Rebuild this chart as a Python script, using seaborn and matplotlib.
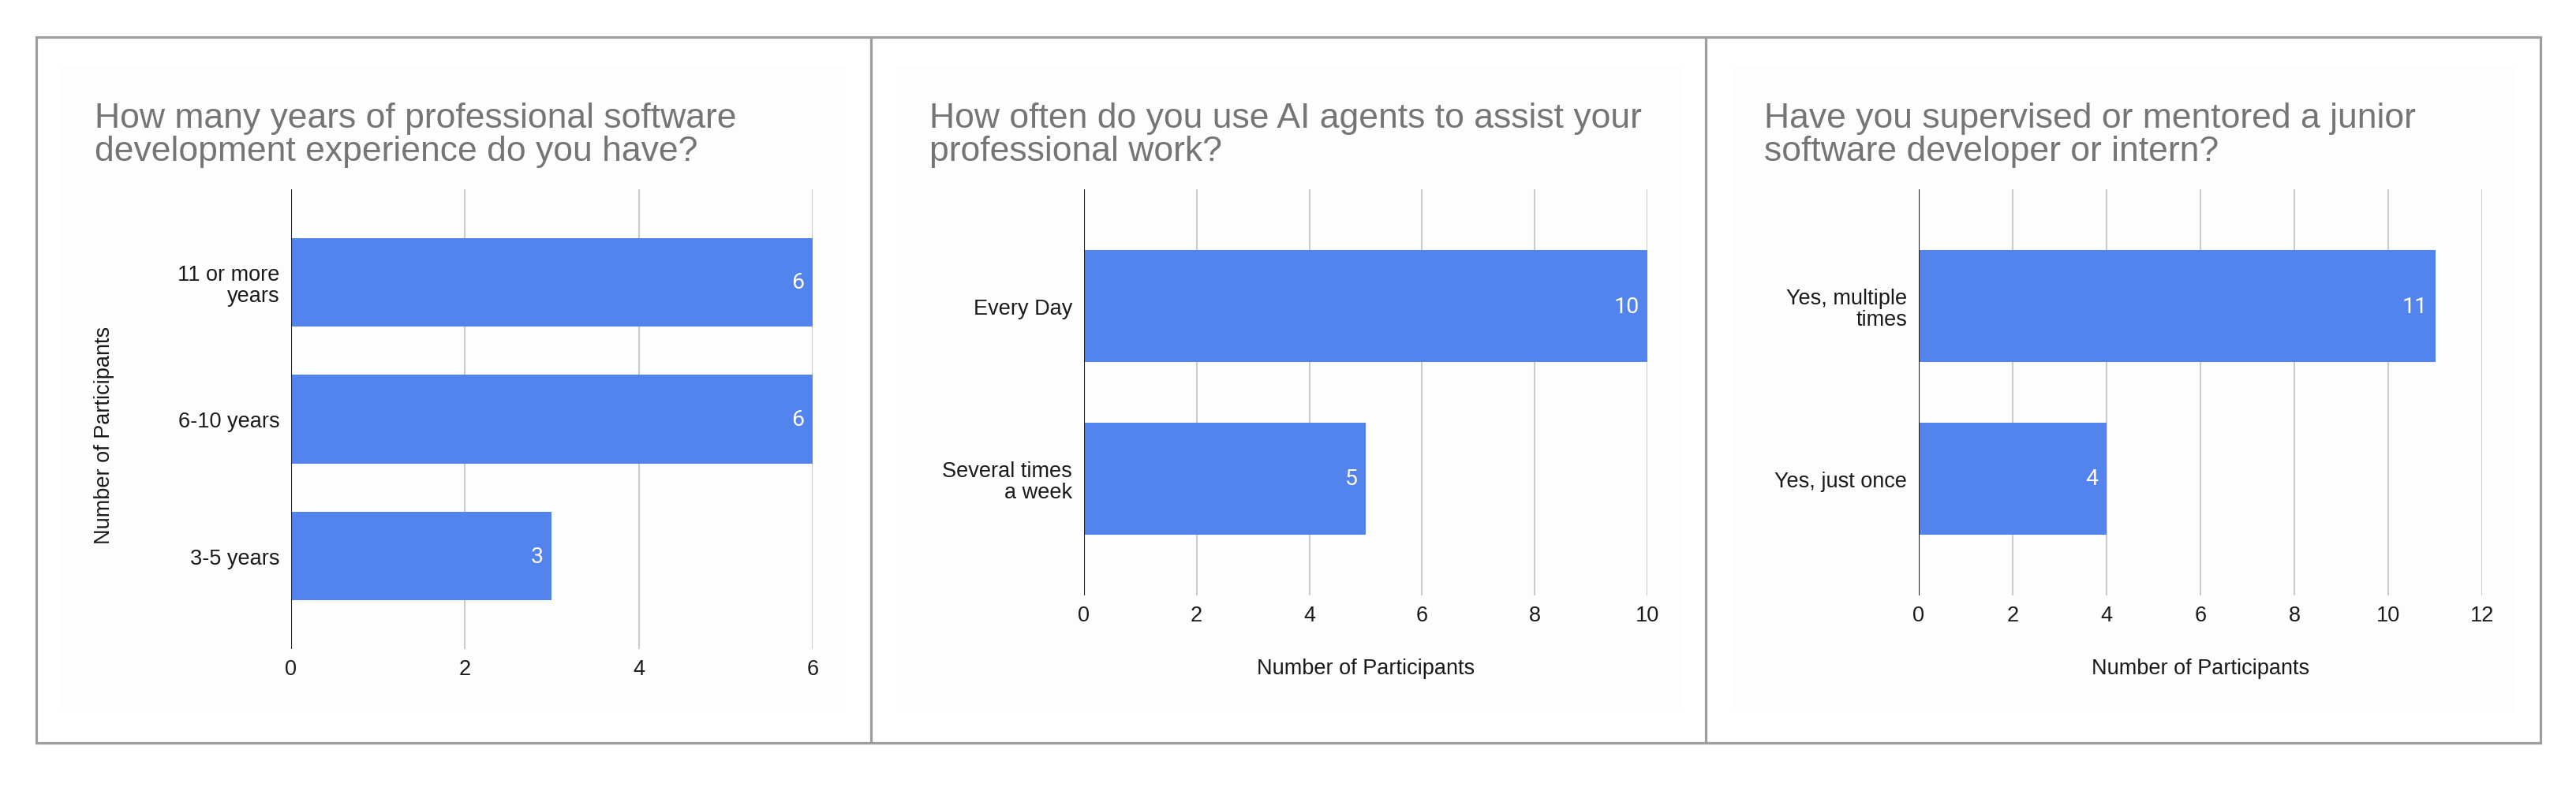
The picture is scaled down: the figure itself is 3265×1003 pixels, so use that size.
import matplotlib.pyplot as plt
import seaborn as sns
from matplotlib.patches import Rectangle
from matplotlib.lines import Line2D

# Survey answers (number of participants)
q1_title = ["How many years of professional software",
            "development experience do you have?"]
q1_cats = ["11 or more\nyears", "6-10 years", "3-5 years"]
q1_vals = [6, 6, 3]

q2_title = ["How often do you use AI agents to assist your",
            "professional work?"]
q2_cats = ["Every Day", "Several times\na week"]
q2_vals = [10, 5]

q3_title = ["Have you supervised or mentored a junior",
            "software developer or intern?"]
q3_cats = ["Yes, multiple\ntimes", "Yes, just once"]
q3_vals = [11, 4]

axis_label = "Number of Participants"

sns.set_theme(style="white")
plt.rcParams['font.family'] = ['Liberation Sans', 'DejaVu Sans']

W, H = 3266, 1004
BLUE = "#5383ec"
FRAME = "#9e9e9e"

fig = plt.figure(figsize=(W / 100, H / 100), dpi=100)
fig.patch.set_facecolor("white")


def box(x0, y0, x1, y1):
  # pixel box (top-down) -> figure fractions
  return [x0 / W, 1 - y1 / H, (x1 - x0) / W, (y1 - y0) / H]


panel_left = [46, 1104, 2162]
panel_right = [1104, 2162, 3220]

# outer frame and dividers
fig.add_artist(Rectangle((46 / W, 1 - 943 / H), (3220 - 46) / W, (943 - 48) / H,
                         transform=fig.transFigure, fill=False, ec=FRAME,
                         lw=2.3, zorder=5))
for xd in [1104, 2162]:
  fig.add_artist(Line2D([xd / W, xd / W], [1 - 943 / H, 1 - 48 / H],
                        transform=fig.transFigure, color=FRAME, lw=2.3, zorder=5))

# very faint chart background
for pl, pr in zip(panel_left, panel_right):
  b = box(pl + 32, 84, pr - 32, 903)
  fig.add_artist(Rectangle((b[0], b[1]), b[2], b[3], transform=fig.transFigure,
                           fc="#fdfdfd", ec="none", zorder=-2))

panels = [
  (q1_title, q1_cats, q1_vals, 6, box(369, 241, 1030, 824)),
  (q2_title, q2_cats, q2_vals, 10, box(1373.6, 241, 2088.4, 756)),
  (q3_title, q3_cats, q3_vals, 12, box(2431.8, 241, 3146.4, 756)),
]

for k, (title, cats, vals, xmax, rect) in enumerate(panels):
  ax = fig.add_axes(rect)
  ax.patch.set_visible(False)
  sns.barplot(x=vals, y=cats, orient="h", color=BLUE, width=0.65,
              linewidth=0, saturation=1, ax=ax, zorder=3)
  n = len(cats)
  ax.set_ylim(n - 1 + 0.68, -0.68)
  ax.set_xlim(0, xmax)
  ax.set_xticks(range(0, xmax + 1, 2))
  ax.grid(axis="x", color="#cccccc", lw=1.5, zorder=0)
  ax.set_axisbelow(True)
  ax.axvline(0, color="#222222", lw=1.5, zorder=4)
  for s in ax.spines.values():
    s.set_visible(False)
  ax.tick_params(axis="y", length=0, pad=10.5, labelsize=19.5,
                 labelcolor="#1a1a1a")
  ax.tick_params(axis="x", length=0, pad=9, labelsize=19.5,
                 labelcolor="#1a1a1a")
  for t in ax.get_yticklabels():
    t.set_linespacing(1.05)

  # value labels inside the bar ends
  for i, v in enumerate(vals):
    ax.annotate(str(v), xy=(v, i), xytext=(-7.5, 0),
                textcoords="offset points", ha="right", va="center",
                color="white", fontsize=20.5, family=["Roboto", "DejaVu Sans"],
                zorder=5)

  if k == 0:
    ax.set_xlabel("")
    ax.set_ylabel(axis_label, fontsize=19.5, color="#1a1a1a", va="center")
    ax.yaxis.set_label_coords((132 - 369) / 661, (824 - 552) / 583)
  else:
    ax.set_ylabel("")
    ax.set_xlabel(axis_label, fontsize=19.5, color="#1a1a1a", va="center")
    ax.xaxis.set_label_coords(0.5, (756 - 848) / 515)

  # two-line title, gray
  tx = (panel_left[k] + 74) / W
  for line, base in zip(title, [162, 204]):
    fig.text(tx, 1 - base / H, line, fontsize=32, color="#757575",
             ha="left", va="baseline")

fig.savefig("out.png", dpi=100, facecolor="white")
